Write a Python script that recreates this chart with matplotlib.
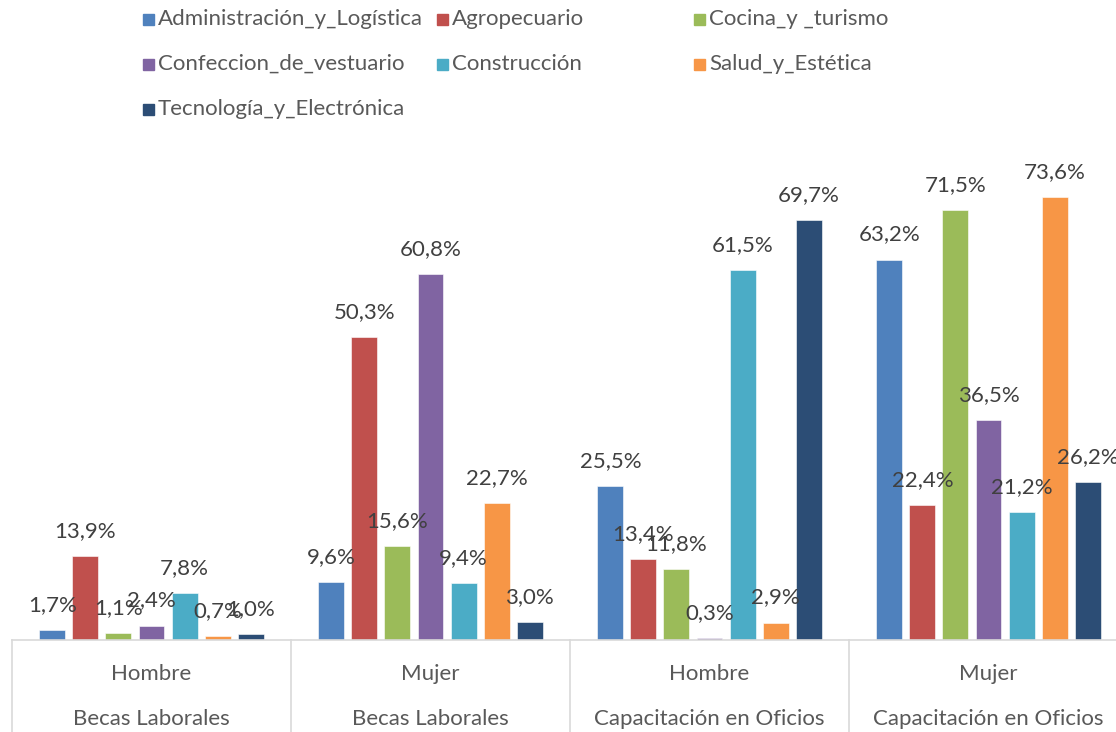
import matplotlib
matplotlib.use("Agg")
import matplotlib.pyplot as plt
from matplotlib.patches import Rectangle
import numpy as np

plt.rcParams['font.family'] = ['Lato', 'DejaVu Sans']

# Groups (sex / program) and programs per group
sexos = ["Hombre", "Mujer", "Hombre", "Mujer"]
programas = ["Becas Laborales", "Becas Laborales", "Capacitación en Oficios", "Capacitación en Oficios"]
areas = ["Administración_y_Logística", "Agropecuario", "Cocina_y _turismo",
         "Confeccion_de_vestuario", "Construcción", "Salud_y_Estética",
         "Tecnología_y_Electrónica"]
colores = ["#4F81BD", "#C0504D", "#9BBB59", "#8064A2", "#4BACC6", "#F79646", "#2C4D75"]

# Percentages per area, one value per group
administracion = [1.7, 9.6, 25.5, 63.2]
agropecuario = [13.9, 50.3, 13.4, 22.4]
cocina = [1.1, 15.6, 11.8, 71.5]
confeccion = [2.4, 60.8, 0.3, 36.5]
construccion = [7.8, 9.4, 61.5, 21.2]
salud = [0.7, 22.7, 2.9, 73.6]
tecnologia = [1.0, 3.0, 69.7, 26.2]
valores = [administracion, agropecuario, cocina, confeccion, construccion, salud, tecnologia]

W, H = 1116, 732
fig = plt.figure(figsize=(W / 100, H / 100), dpi=100)
# plot area runs past the right edge of the image
ax = fig.add_axes([12 / W, 92 / H, 1116 / W, 490 / H])

texto = "#404040"
gris = "#D9D9D9"
paso = 0.1185
ancho = 0.093
x = np.arange(4) + 0.5

for j, (serie, color) in enumerate(zip(valores, colores)):
    pos = x + (j - 3) * paso
    barras = ax.bar(pos, serie, width=ancho, color=color, edgecolor="white", linewidth=0.4)
    for b, v in zip(barras, serie):
        ax.annotate(f"{v:.1f}%".replace(".", ","), (b.get_x() + b.get_width() / 2, v),
                    xytext=(0, 15), textcoords="offset pixels", ha="center", va="bottom",
                    fontsize=16, color=texto)

ax.set_xlim(0, 4)
ax.set_ylim(0, 81.4)
ax.set_xticks([])
ax.set_yticks([])
for s in ["top", "left", "right"]:
    ax.spines[s].set_visible(False)
ax.spines["bottom"].set_color(gris)
ax.spines["bottom"].set_linewidth(1.2)

# two-level category axis
tr = ax.get_xaxis_transform()
for b in range(5):
    ax.plot([b, b], [0, -0.19], transform=tr, color=gris, lw=1.2, clip_on=False)
for i in range(4):
    ax.text(x[i], -0.069, sexos[i], transform=tr, ha="center", va="center",
            fontsize=16, color="#595959")
    ax.text(x[i], -0.161, programas[i], transform=tr, ha="center", va="center",
            fontsize=16, color="#595959")

# legend in three columns
col_x = [143, 437, 694]
fila_y = [19, 64, 109]
for k, (nombre, color) in enumerate(zip(areas, colores)):
    cx = col_x[k % 3]
    cy = fila_y[k // 3]
    fig.add_artist(Rectangle((cx / W, 1 - (cy + 5.5) / H), 11 / W, 11 / H,
                             transform=fig.transFigure, color=color))
    fig.text((cx + 15) / W, 1 - cy / H, nombre, ha="left", va="center",
             fontsize=16, color="#595959")

fig.savefig("out.png", dpi=100)
